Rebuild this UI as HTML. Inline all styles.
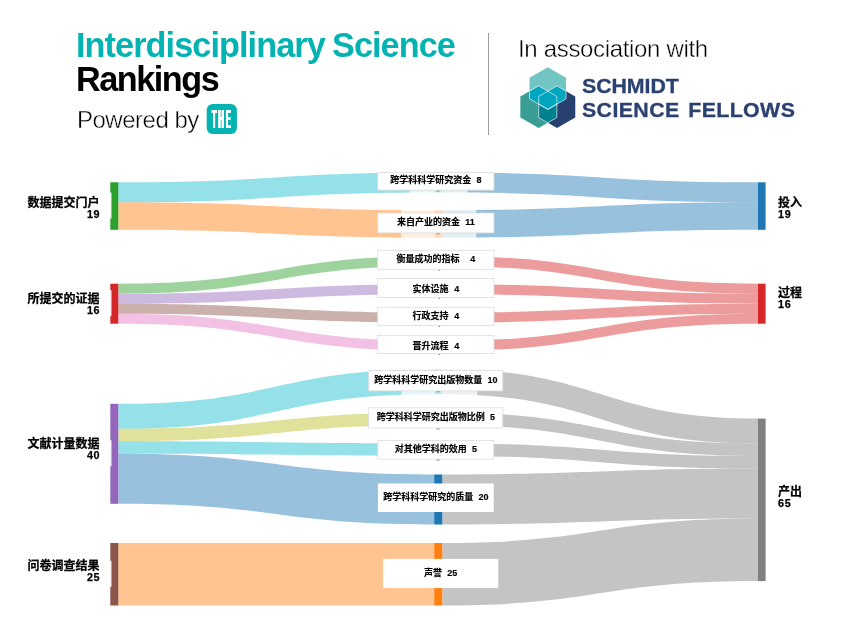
<!DOCTYPE html>
<html lang="zh-CN">
<head>
<meta charset="utf-8">
<title>Interdisciplinary Science Rankings</title>
<style>
html,body{margin:0;padding:0;background:#fff;}
body{width:845px;height:624px;position:relative;overflow:hidden;font-family:"Liberation Sans","Noto Sans CJK SC",sans-serif;}
.t{position:absolute;white-space:nowrap;line-height:1;margin:0;will-change:transform;}
#h1{left:75.9px;top:28.2px;font-size:34.2px;font-weight:bold;color:#02b3b1;letter-spacing:-0.9px;word-spacing:-1.4px;}
#h2{left:76.3px;top:62.2px;font-size:34.2px;font-weight:bold;color:#000;letter-spacing:-1.45px;}
#h3{left:77.2px;top:107.8px;font-size:24px;color:#000;letter-spacing:-0.5px;-webkit-text-stroke:0.4px #fff;}
#h4{left:518px;top:37.3px;font-size:24px;color:#000;letter-spacing:-0.33px;-webkit-text-stroke:0.4px #fff;}
#s1{left:582.2px;top:77.4px;font-size:19.4px;font-weight:bold;color:#2b4170;letter-spacing:-0.05px;-webkit-text-stroke:0.3px #2b4170;transform:scaleX(1.1);transform-origin:0 0;}
#s2{left:582.2px;top:100.6px;font-size:19.4px;font-weight:bold;color:#2b4170;letter-spacing:0.36px;word-spacing:2.1px;-webkit-text-stroke:0.3px #2b4170;transform:scaleX(1.1);transform-origin:0 0;}
#the{left:211.8px;top:106.7px;font-size:25.4px;font-weight:bold;color:#fff;letter-spacing:7.2px;transform:scaleX(0.285);transform-origin:0 0;text-shadow:2.1px 0 #fff,-2.1px 0 #fff,1px 0 #fff,-1px 0 #fff;}
#div{position:absolute;left:488px;top:33px;width:1px;height:102px;background:#9c9c9c;}
svg{position:absolute;left:0;top:0;will-change:transform;}
.nl{font:bold 12px "Liberation Sans","Noto Sans CJK SC",sans-serif;fill:#000;stroke:#000;stroke-width:0.25px;}
.nv{font-size:10.8px;letter-spacing:0.7px;}
.ml{font:bold 9px "Liberation Sans","Noto Sans CJK SC",sans-serif;fill:#000;stroke:#000;stroke-width:0.15px;}
.the{font:bold 26px "Liberation Sans",sans-serif;fill:#fff;}
</style>
</head>
<body>
<div class="t" id="h1">Interdisciplinary Science</div>
<div class="t" id="h2">Rankings</div>
<div class="t" id="h3">Powered by</div>
<div id="div"></div>
<div class="t" id="h4">In association with</div>
<div class="t" id="s1">SCHMIDT</div>
<div class="t" id="s2">SCIENCE FELLOWS</div>
<svg width="845" height="624" viewBox="0 0 845 624">
<rect x="206.7" y="104" width="30.2" height="30" rx="6" fill="#02b3b1"/>

<defs>
<clipPath id="cT"><polygon points="547.80,67.20 566.07,77.75 566.07,98.85 547.80,109.40 529.53,98.85 529.53,77.75"/></clipPath>
<clipPath id="cL"><polygon points="538.60,85.90 556.87,96.45 556.87,117.55 538.60,128.10 520.33,117.55 520.33,96.45"/></clipPath>
<clipPath id="cR"><polygon points="557.00,85.90 575.27,96.45 575.27,117.55 557.00,128.10 538.73,117.55 538.73,96.45"/></clipPath>
</defs>
<polygon points="557.00,85.90 575.27,96.45 575.27,117.55 557.00,128.10 538.73,117.55 538.73,96.45" fill="#27406e"/>
<polygon points="538.60,85.90 556.87,96.45 556.87,117.55 538.60,128.10 520.33,117.55 520.33,96.45" fill="#3a9e96"/>
<polygon points="547.80,67.20 566.07,77.75 566.07,98.85 547.80,109.40 529.53,98.85 529.53,77.75" fill="#73c5c4"/>
<g clip-path="url(#cL)"><polygon points="557.00,85.90 575.27,96.45 575.27,117.55 557.00,128.10 538.73,117.55 538.73,96.45" fill="#00808f" stroke="#fff" stroke-width="0.6"/></g>
<g clip-path="url(#cT)"><polygon points="538.60,85.90 556.87,96.45 556.87,117.55 538.60,128.10 520.33,117.55 520.33,96.45" fill="#00a5c0" stroke="#fff" stroke-width="0.6"/></g>
<g clip-path="url(#cT)"><polygon points="557.00,85.90 575.27,96.45 575.27,117.55 557.00,128.10 538.73,117.55 538.73,96.45" fill="#00a5c0" stroke="#fff" stroke-width="0.6"/></g>
<g clip-path="url(#cL)"><polygon points="547.80,67.20 566.07,77.75 566.07,98.85 547.80,109.40 529.53,98.85 529.53,77.75" fill="none" stroke="#fff" stroke-width="0.6"/></g>
<g clip-path="url(#cR)"><polygon points="547.80,67.20 566.07,77.75 566.07,98.85 547.80,109.40 529.53,98.85 529.53,77.75" fill="none" stroke="#fff" stroke-width="0.6"/></g>
<g clip-path="url(#cR)"><polygon points="538.60,85.90 556.87,96.45 556.87,117.55 538.60,128.10 520.33,117.55 520.33,96.45" fill="none" stroke="#fff" stroke-width="0.6"/></g>

<path d="M118.3,182.30C276.2,182.30 276.2,172.50 434.2,172.50L434.2,192.50C276.2,192.50 276.2,202.30 118.3,202.30Z" fill="#17becf" fill-opacity="0.46"/>
<path d="M118.3,202.30C276.2,202.30 276.2,210.20 434.2,210.20L434.2,237.70C276.2,237.70 276.2,229.80 118.3,229.80Z" fill="#ff7f0e" fill-opacity="0.46"/>
<path d="M118.3,283.70C276.2,283.70 276.2,255.90 434.2,255.90L434.2,265.90C276.2,265.90 276.2,293.70 118.3,293.70Z" fill="#2ca02c" fill-opacity="0.46"/>
<path d="M118.3,293.70C276.2,293.70 276.2,284.20 434.2,284.20L434.2,294.20C276.2,294.20 276.2,303.70 118.3,303.70Z" fill="#9467bd" fill-opacity="0.46"/>
<path d="M118.3,303.70C276.2,303.70 276.2,312.60 434.2,312.60L434.2,322.60C276.2,322.60 276.2,313.70 118.3,313.70Z" fill="#8c564b" fill-opacity="0.46"/>
<path d="M118.3,313.70C276.2,313.70 276.2,340.90 434.2,340.90L434.2,350.90C276.2,350.90 276.2,323.70 118.3,323.70Z" fill="#e377c2" fill-opacity="0.46"/>
<path d="M118.3,403.80C276.2,403.80 276.2,369.30 434.2,369.30L434.2,394.30C276.2,394.30 276.2,428.80 118.3,428.80Z" fill="#17becf" fill-opacity="0.46"/>
<path d="M118.3,428.80C276.2,428.80 276.2,412.60 434.2,412.60L434.2,425.10C276.2,425.10 276.2,441.30 118.3,441.30Z" fill="#bcbd22" fill-opacity="0.46"/>
<path d="M118.3,441.30C276.2,441.30 276.2,443.40 434.2,443.40L434.2,455.90C276.2,455.90 276.2,453.80 118.3,453.80Z" fill="#17becf" fill-opacity="0.46"/>
<path d="M118.3,453.80C276.2,453.80 276.2,474.50 434.2,474.50L434.2,524.50C276.2,524.50 276.2,503.80 118.3,503.80Z" fill="#1f77b4" fill-opacity="0.46"/>
<path d="M118.3,543.00C276.2,543.00 276.2,543.00 434.2,543.00L434.2,605.50C276.2,605.50 276.2,605.50 118.3,605.50Z" fill="#ff7f0e" fill-opacity="0.46"/>
<path d="M442.3,172.50C600.1,172.50 600.1,182.30 758.0,182.30L758.0,202.30C600.1,202.30 600.1,192.50 442.3,192.50Z" fill="#1f77b4" fill-opacity="0.46"/>
<path d="M442.3,210.20C600.1,210.20 600.1,202.30 758.0,202.30L758.0,229.80C600.1,229.80 600.1,237.70 442.3,237.70Z" fill="#1f77b4" fill-opacity="0.46"/>
<path d="M442.3,255.90C600.1,255.90 600.1,283.70 758.0,283.70L758.0,293.70C600.1,293.70 600.1,265.90 442.3,265.90Z" fill="#d62728" fill-opacity="0.46"/>
<path d="M442.3,284.20C600.1,284.20 600.1,293.70 758.0,293.70L758.0,303.70C600.1,303.70 600.1,294.20 442.3,294.20Z" fill="#d62728" fill-opacity="0.46"/>
<path d="M442.3,312.60C600.1,312.60 600.1,303.70 758.0,303.70L758.0,313.70C600.1,313.70 600.1,322.60 442.3,322.60Z" fill="#d62728" fill-opacity="0.46"/>
<path d="M442.3,340.90C600.1,340.90 600.1,313.70 758.0,313.70L758.0,323.70C600.1,323.70 600.1,350.90 442.3,350.90Z" fill="#d62728" fill-opacity="0.46"/>
<path d="M442.3,369.30C600.1,369.30 600.1,418.60 758.0,418.60L758.0,443.60C600.1,443.60 600.1,394.30 442.3,394.30Z" fill="#7f7f7f" fill-opacity="0.46"/>
<path d="M442.3,412.60C600.1,412.60 600.1,443.60 758.0,443.60L758.0,456.10C600.1,456.10 600.1,425.10 442.3,425.10Z" fill="#7f7f7f" fill-opacity="0.46"/>
<path d="M442.3,443.40C600.1,443.40 600.1,456.10 758.0,456.10L758.0,468.60C600.1,468.60 600.1,455.90 442.3,455.90Z" fill="#7f7f7f" fill-opacity="0.46"/>
<path d="M442.3,474.50C600.1,474.50 600.1,468.60 758.0,468.60L758.0,518.60C600.1,518.60 600.1,524.50 442.3,524.50Z" fill="#7f7f7f" fill-opacity="0.46"/>
<path d="M442.3,543.00C600.1,543.00 600.1,518.60 758.0,518.60L758.0,581.10C600.1,581.10 600.1,605.50 442.3,605.50Z" fill="#7f7f7f" fill-opacity="0.46"/>
<rect x="110.3" y="182.3" width="8.0" height="47.5" fill="#2ca02c"/>
<rect x="110.3" y="283.7" width="8.0" height="40.0" fill="#d62728"/>
<rect x="110.3" y="403.8" width="8.0" height="100.0" fill="#9467bd"/>
<rect x="110.3" y="543.0" width="8.0" height="62.5" fill="#8c564b"/>
<rect x="758.0" y="182.3" width="7.6" height="47.5" fill="#1f77b4"/>
<rect x="758.0" y="283.7" width="7.6" height="40.0" fill="#d62728"/>
<rect x="758.0" y="418.6" width="7.6" height="162.5" fill="#7f7f7f"/>
<rect x="434.2" y="172.5" width="8.1" height="20.0" fill="#17becf"/>
<rect x="434.2" y="210.2" width="8.1" height="27.5" fill="#ff7f0e"/>
<rect x="434.2" y="255.9" width="8.1" height="10.0" fill="#2ca02c"/>
<rect x="434.2" y="284.2" width="8.1" height="10.0" fill="#9467bd"/>
<rect x="434.2" y="312.6" width="8.1" height="10.0" fill="#8c564b"/>
<rect x="434.2" y="340.9" width="8.1" height="10.0" fill="#e377c2"/>
<rect x="434.2" y="369.3" width="8.1" height="25.0" fill="#17becf"/>
<rect x="434.2" y="412.6" width="8.1" height="12.5" fill="#bcbd22"/>
<rect x="434.2" y="443.4" width="8.1" height="12.5" fill="#17becf"/>
<rect x="434.2" y="474.5" width="8.1" height="50.0" fill="#1f77b4"/>
<rect x="434.2" y="543.0" width="8.1" height="62.5" fill="#ff7f0e"/>
<rect x="410" y="171.5" width="57.5" height="22.0" fill="#fff" fill-opacity="0.72"/>
<rect x="401.2" y="209.2" width="75.0" height="29.5" fill="#fff" fill-opacity="0.72"/>
<rect x="401.3" y="368.3" width="76.1" height="27.0" fill="#fff" fill-opacity="0.72"/>
<rect x="377.7" y="172.4" width="116.3" height="17.7" fill="#fff" stroke="#dcdcdc" stroke-width="0.8"/>
<text class="ml" x="435.9" y="183.40" text-anchor="middle">跨学科科学研究资金<tspan dx="5.2">8</tspan></text>
<rect x="436.5" y="190.6" width="3.0" height="0.9" fill="#808080"/>
<rect x="377.7" y="213.0" width="116.3" height="19.9" fill="#fff" stroke="#dcdcdc" stroke-width="0.8"/>
<text class="ml" x="435.9" y="225.40" text-anchor="middle">来自产业的资金<tspan dx="5.2">11</tspan></text>
<rect x="436.5" y="233.4" width="3.0" height="0.9" fill="#808080"/>
<rect x="377.7" y="250.3" width="116.3" height="19.0" fill="#fff" stroke="#dcdcdc" stroke-width="0.8"/>
<text class="ml" x="435.9" y="262.30" text-anchor="middle">衡量成功的指标<tspan dx="10.8">4</tspan></text>
<rect x="438.6" y="269.8" width="1.6" height="0.9" fill="#808080"/>
<rect x="377.7" y="278.5" width="116.3" height="18.9" fill="#fff" stroke="#dcdcdc" stroke-width="0.8"/>
<text class="ml" x="435.9" y="292.40" text-anchor="middle">实体设施<tspan dx="5.6">4</tspan></text>
<rect x="438.6" y="297.9" width="1.6" height="0.9" fill="#808080"/>
<rect x="377.7" y="307.3" width="116.3" height="18.2" fill="#fff" stroke="#dcdcdc" stroke-width="0.8"/>
<text class="ml" x="435.9" y="319.20" text-anchor="middle">行政支持<tspan dx="5.6">4</tspan></text>
<rect x="438.6" y="326.0" width="1.6" height="0.9" fill="#808080"/>
<rect x="377.7" y="335.3" width="116.3" height="18.3" fill="#fff" stroke="#dcdcdc" stroke-width="0.8"/>
<text class="ml" x="435.9" y="348.80" text-anchor="middle">晋升流程<tspan dx="5.6">4</tspan></text>
<rect x="438.6" y="354.1" width="1.6" height="0.9" fill="#808080"/>
<rect x="368.7" y="370.5" width="134.1" height="20.4" fill="#fff" stroke="#dcdcdc" stroke-width="0.8"/>
<text class="ml" x="435.8" y="383.30" text-anchor="middle">跨学科科学研究出版物数量<tspan dx="5.2">10</tspan></text>
<rect x="436.5" y="391.4" width="3.0" height="0.9" fill="#808080"/>
<rect x="368.7" y="407.8" width="134.1" height="20.2" fill="#fff" stroke="#dcdcdc" stroke-width="0.8"/>
<text class="ml" x="435.8" y="420.40" text-anchor="middle">跨学科科学研究出版物比例<tspan dx="5.2">5</tspan></text>
<rect x="436.5" y="428.5" width="3.0" height="0.9" fill="#808080"/>
<rect x="377.8" y="440.4" width="116.0" height="18.7" fill="#fff" stroke="#dcdcdc" stroke-width="0.8"/>
<text class="ml" x="435.8" y="452.20" text-anchor="middle">对其他学科的效用<tspan dx="5.2">5</tspan></text>
<rect x="436.5" y="459.6" width="3.0" height="0.9" fill="#808080"/>
<rect x="377.9" y="483.5" width="115.8" height="28.5" fill="#fff"/>
<text class="ml" x="435.8" y="500.20" text-anchor="middle">跨学科科学研究的质量<tspan dx="5.2">20</tspan></text>
<rect x="383.1" y="558.9" width="115.2" height="29.2" fill="#fff"/>
<text class="ml" x="440.7" y="576.15" text-anchor="middle">声誉<tspan dx="5.2">25</tspan></text>
<rect x="14" y="192.6" width="97.5" height="26" fill="#fff" fill-opacity="0.9"/>
<rect x="14" y="290.2" width="97.5" height="26" fill="#fff" fill-opacity="0.9"/>
<rect x="14" y="440.3" width="97.5" height="26" fill="#fff" fill-opacity="0.9"/>
<rect x="14" y="560.8" width="97.5" height="26" fill="#fff" fill-opacity="0.9"/>
<text class="nl" x="99.6" y="206.8" text-anchor="end">数据提交门户</text>
<text class="nl nv" x="100.3" y="218.0" text-anchor="end">19</text>
<text class="nl" x="99.6" y="303.1" text-anchor="end">所提交的证据</text>
<text class="nl nv" x="100.3" y="314.3" text-anchor="end">16</text>
<text class="nl" x="99.6" y="447.6" text-anchor="end">文献计量数据</text>
<text class="nl nv" x="100.3" y="458.8" text-anchor="end">40</text>
<text class="nl" x="99.6" y="569.6" text-anchor="end">问卷调查结果</text>
<text class="nl nv" x="100.3" y="580.8" text-anchor="end">25</text>
<text class="nl" x="778.0" y="207.2">投入</text>
<text class="nl nv" x="778.0" y="218.4">19</text>
<text class="nl" x="778.0" y="296.5">过程</text>
<text class="nl nv" x="778.0" y="307.7">16</text>
<text class="nl" x="778.0" y="495.5">产出</text>
<text class="nl nv" x="778.0" y="506.7">65</text>
</svg>
<div class="t" id="the">THE</div>
</body>
</html>
